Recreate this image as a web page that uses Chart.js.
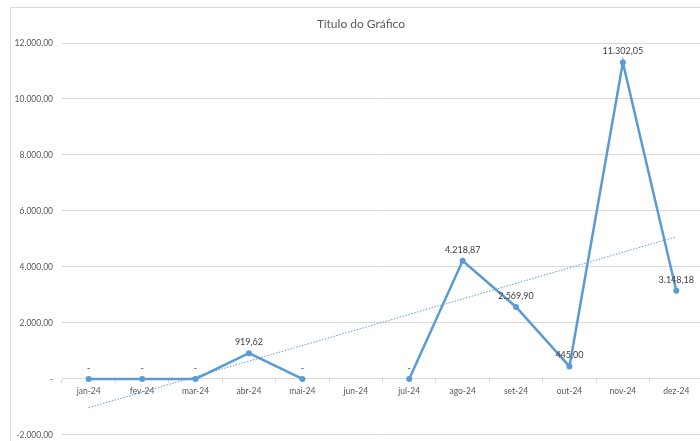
<!DOCTYPE html>
<html>
<head>
<meta charset="utf-8">
<script src="https://cdn.jsdelivr.net/npm/chart.js@4/dist/chart.umd.min.js"></script>
<style>
  html, body { margin: 0; padding: 0; background: #fff; overflow: hidden; width: 700px; height: 441px; }
  #wrap { position: absolute; left: 0; top: 0; width: 722px; height: 449px; }
  #frame { position: absolute; left: 10px; top: 7px; width: 760px; height: 500px;
           border-left: 1px solid #d9d9d9; border-top: 1px solid #d9d9d9; pointer-events: none; }
</style>
</head>
<body>
<div id="wrap"><canvas id="c" width="722" height="449"></canvas></div>
<div id="frame"></div>
<script>
const categories = ['jan-24','fev-24','mar-24','abr-24','mai-24','jun-24','jul-24','ago-24','set-24','out-24','nov-24','dez-24'];
const values = [0, 0, 0, 919.62, 0, null, 0, 4218.87, 2569.90, 445.00, 11302.05, 3148.18];
// linear trendline: value at jan-24 and at dez-24
const trendValues = [-1030, null, null, null, null, null, null, null, null, null, null, 5080];
const yTicks = [-2000, 0, 2000, 4000, 6000, 8000, 10000, 12000];

function fmtBR(v) {
  if (v === 0) return '-';
  const neg = v < 0;
  const s = Math.abs(v).toFixed(2);
  let [ip, dp] = s.split('.');
  ip = ip.replace(/\B(?=(\d{3})+(?!\d))/g, '.');
  return (neg ? '-' : '') + ip + ',' + dp;
}

const FONT = 'Lato, "Open Sans", sans-serif';

const labelPlugin = {
  id: 'pointLabels',
  afterDatasetsDraw(chart) {
    const meta = chart.getDatasetMeta(0);
    const ctx = chart.ctx;
    ctx.save();
    ctx.font = '9px ' + FONT;
    ctx.fillStyle = '#404040';
    ctx.textAlign = 'center';
    ctx.textBaseline = 'middle';
    meta.data.forEach((el, i) => {
      const v = values[i];
      if (v === null || v === undefined) return;
      ctx.fillText(fmtBR(v), el.x, el.y - 11);
    });
    ctx.restore();
  }
};

new Chart(document.getElementById('c'), {
  type: 'line',
  data: {
    labels: categories,
    datasets: [
      {
        label: 'Série',
        data: values,
        borderColor: '#5B9BD5',
        backgroundColor: '#5B9BD5',
        borderWidth: 2.5,
        pointRadius: 3,
        pointBorderWidth: 0,
        pointBackgroundColor: '#5B9BD5',
        spanGaps: false,
        tension: 0,
        order: 1
      },
      {
        label: 'Linear',
        data: trendValues,
        borderColor: '#5B9BD5',
        borderWidth: 1,
        borderDash: [1.5, 1.5],
        pointRadius: 0,
        spanGaps: true,
        tension: 0,
        order: 0
      }
    ]
  },
  options: {
    responsive: false,
    animation: false,
    devicePixelRatio: 1,
    layout: { padding: { left: 0, right: 0, top: 0, bottom: 6 } },
    plugins: {
      legend: { display: false },
      tooltip: { enabled: false },
      title: {
        display: true,
        text: 'Título do Gráfico',
        color: '#595959',
        font: { family: FONT, size: 12, weight: 'normal' },
        padding: { top: 17, bottom: 11.6 }
      }
    },
    scales: {
      x: {
        type: 'category',
        position: { y: 0 },
        offset: true,
        grid: {
          offset: true,
          drawOnChartArea: false,
          drawTicks: true,
          tickLength: 4,
          color: '#d9d9d9'
        },
        border: { display: true, color: '#d9d9d9' },
        ticks: {
          color: '#595959',
          font: { family: FONT, size: 8.5 },
          padding: 3,
          maxRotation: 0,
          autoSkip: false
        }
      },
      y: {
        min: -2000,
        max: 12000,
        afterBuildTicks(scale) { scale.ticks = yTicks.map(v => ({ value: v })); },
        afterFit(scale) { scale.width = 62; },
        grid: { color: '#d9d9d9', drawTicks: false },
        border: { display: false },
        ticks: {
          color: '#595959',
          font: { family: FONT, size: 8.5 },
          padding: 9,
          callback: (v) => fmtBR(v)
        }
      },
      yRightSpacer: {
        type: 'linear',
        position: 'right',
        display: true,
        min: 0,
        max: 1,
        afterFit(scale) { scale.width = 19; },
        grid: { display: false, drawTicks: false },
        border: { display: false },
        ticks: { display: false }
      }
    }
  },
  plugins: [labelPlugin]
});
</script>
</body>
</html>
